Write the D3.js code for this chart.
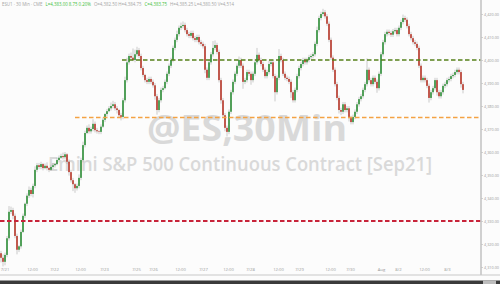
<!DOCTYPE html>
<html lang="en">
<head>
    <meta charset="UTF-8">
    <title>ES 30Min</title>
    <script src="https://d3js.org/d3.v7.min.js"></script>
    <style>
        body { margin: 0; background: #fcfcfc; }
        svg { display: block; font-family: "Open Sans", sans-serif; }
        .wick { stroke: #a9a9a9; stroke-width: .6; }
        .up { fill: #2f9038; }
        .down { fill: #b8372a; }
        .axis text { fill: #9a9a9a; font-size: 4.2px; font-family: "Open Sans", sans-serif; }
        .axis.py text { font-size: 3.8px; }
        .axis line { stroke: #b5b5b5; stroke-width: .6; }
        .mark { fill: #d9d9d9; }
        .head { font-size: 4.4px; fill: #a5a5a5; }
        .head .g { fill: #3fbf3f; }
    </style>
</head>
<body>
<script>
    const width = 500;
    const height = 284;

    // 30 min ES bars (closes), first open given separately
    const firstOpen = 4316.0;
    const closes = [
        4314.0, 4312.25, 4315.25, 4322.5, 4334.0, 4334.75, 4332.25, 4323.5, 4317.5, 4319.0,
        4325.25, 4332.25, 4337.5, 4341.0, 4343.5, 4341.75, 4345.25, 4352.25, 4354.25, 4353.5,
        4354.75, 4353.0, 4354.0, 4353.0, 4352.25, 4353.5, 4354.25, 4354.75, 4356.5, 4357.5,
        4358.25, 4357.75, 4359.0, 4355.75, 4351.25, 4347.75, 4346.0, 4344.25, 4345.25, 4348.75,
        4356.5, 4363.0, 4368.25, 4370.5, 4369.0, 4370.0, 4372.25, 4369.5, 4369.0, 4368.75,
        4371.0, 4374.0, 4376.5, 4377.75, 4379.0, 4380.0, 4380.75, 4379.0, 4378.25, 4376.0,
        4375.25, 4382.5, 4391.25, 4399.0, 4401.75, 4401.0, 4400.0, 4402.5, 4404.25, 4401.75,
        4396.5, 4393.5, 4391.25, 4390.5, 4391.75, 4390.5, 4389.0, 4384.25, 4378.25, 4382.5,
        4387.0, 4387.75, 4390.5, 4394.0, 4397.5, 4400.0, 4405.25, 4408.75, 4411.25, 4414.0,
        4414.75, 4415.25, 4413.0, 4411.25, 4410.5, 4411.75, 4409.5, 4408.75, 4410.0, 4407.75,
        4407.0, 4406.0, 4395.75, 4392.25, 4399.0, 4402.5, 4405.25, 4406.5, 4403.5, 4391.25,
        4382.5, 4376.0, 4370.5, 4368.75, 4377.5, 4386.0, 4390.5, 4394.0, 4397.5, 4400.0,
        4397.5, 4390.5, 4391.25, 4394.75, 4394.0, 4391.25, 4394.0, 4399.0, 4402.25, 4400.0,
        4398.25, 4395.75, 4393.0, 4394.75, 4398.25, 4399.0, 4393.0, 4386.0, 4392.25, 4401.75,
        4400.0, 4394.0, 4392.25, 4391.75, 4390.5, 4386.0, 4382.5, 4387.0, 4393.0, 4396.5,
        4398.25, 4400.0, 4399.0, 4400.0, 4401.25, 4401.75, 4402.5, 4407.0, 4413.0, 4418.25,
        4420.0, 4420.75, 4419.0, 4415.75, 4408.75, 4401.0, 4395.75, 4389.5, 4383.5, 4378.25,
        4377.5, 4380.75, 4378.25, 4379.0, 4374.75, 4373.0, 4375.25, 4377.5, 4380.75, 4383.0,
        4384.25, 4387.0, 4389.5, 4395.75, 4391.25, 4389.5, 4392.25, 4390.5, 4387.75, 4394.0,
        4402.5, 4407.75, 4411.25, 4412.25, 4411.75, 4411.0, 4412.5, 4413.0, 4411.25, 4414.0,
        4416.5, 4418.25, 4417.5, 4414.75, 4411.25, 4409.5, 4407.75, 4407.0, 4405.25, 4397.5,
        4391.25, 4392.25, 4391.25, 4388.75, 4383.5, 4386.0, 4387.75, 4391.25, 4386.0, 4384.25,
        4386.0, 4388.75, 4389.5, 4391.25, 4391.75, 4393.0, 4393.5, 4394.75, 4395.75, 4394.75,
        4389.5, 4387.0
    ];
    // points the high sits above the body / the low sits below the body
    const wickUp = [
        1,1.5,1,1,2.5,1.5,1,1,1,.5,  1,1,.5,1,1.5,1,1,1.5,1,1,  1,.5,1,1.5,.5,1,1,.5,1,1,
        1,1.5,1,.5,1,1,1,.5,1,1.5,  1,1.5,1,1,1.5,1,2,1,1,.5,  1,1,.5,1,1,1.5,1.5,1,1,.5,
        1,1,1.5,2,1,1.5,4,2,1.5,1,  1,1,.5,1,1,1,1,1,1,1,  1,1,1,1,1,1,1,1,1.5,1,
        1.5,1.5,1,1,1,1,1,1,1,1,  1,1,1,1,1,1,3,2,1,1,  1,1,1,1,1,1,1,1,1,1.5,
        1,1,1,1,1,1,1,1.5,3,1,  1,1,1,1,1.5,1,1,1,1,3,  1,1,1,1,1,1,1,1,1,1,
        1,1,1,1,1,1,1,1,1.5,1,  1,1.5,1,1,1,1,1,1,1,1,  1,1,1,1,1,1,1,1,1,1,
        1,1,1,5,1,1,1,1,1,1,  1,1,1,1,1,1,1,1,1,1,  1,1.5,1,1,1,1,1,1,1,1,
        1,1,1,1,1,1,1,1,1,1,  1,1,1,1,1,1,1,1,1,1,  1,1
    ];
    const wickDown = [
        2,2,1.5,1,1,1,1.5,1,2,1,  1,.5,1,1,1,1,1.5,1,1,1,  1,1,.5,1,1,.5,1,1,.5,1,
        .5,1,1,1,1.5,1,3,2,1,1,  1,1,1,.5,1,1,1,1,1,1,  1,.5,1,1,.5,1,1,1,1.5,1,
        1.5,1,1,1,1,1,.5,1,1,1,  1,1,1,1,1,1,1,1.5,2,1,  1,1,.5,1,1,1,1,1,1,1,
        1,1,1,1,1,1,1,1,1,1,  1,1,1.5,1,1,1,1,1,1,1,  1.5,1,1.5,2,1,1,1,1,1,1,
        1,3,1,1,1,2,1,1,1,1,  1,1,1,1,1,1,1,4,1,1,  1,1,1,1,1,2.5,1,1,1,1,
        1,1,1,1,1,1,1,1,1,1,  1,1,1,1,1,1,1,1,1,1.5,  1.5,1,1,1,1.5,1,1,1,1,1,
        1,1,1,1,1,1,1,1,2,1,  1,1,1,1,1,1,1,1,1,1,  1,1,1,1,1,1,1,1,1,1,
        1,1,1,1,2,1,1,1,1.5,1,  1,1,1,1,1,1,1,1,1,1,  1.5,1.5
    ];

    const priceTicks = [4310, 4320, 4330, 4340, 4350, 4360, 4370, 4380, 4390, 4400, 4410, 4420];
    const timeTickBars = [1.75, 15.5, 26.5, 39.5, 51.5, 67.5, 76, 89.5, 101, 113.5, 124.5, 138.5, 149, 164.5, 174.5, 190, 198.5, 211.5, 223];
    const timeTickLabels = ["7/21", "12:00", "7/22", "12:00", "7/23", "7/25", "7/26", "12:00", "7/27", "12:00", "7/28", "12:00", "7/29", "12:00", "7/30", "Aug", "8/2", "12:00", "8/3"];

    // horizontal levels: price and the bar they start at
    const levelPrices = [4400, 4375, 4330];
    const levelStartBars = [60.5, 37, -0.5];
    const levelColors = ["#56801a", "#f4a243", "#c8243a"];

    const headerParts = [
        ["ESU1 · 30 Min · CME", ""],
        ["L=4,383.00 8.75 0.20%", "g"],
        ["O=4,382.50 H=4,384.75", ""],
        ["C=4,383.75", "g"],
        ["H=4,385.25 L=4,380.50 V=4,514", ""]
    ];

    const bars = closes.map((c, i) => {
        const o = i === 0 ? firstOpen : closes[i - 1];
        return {
            i: i, o: o, c: c,
            h: Math.max(o, c) + wickUp[i],
            l: Math.min(o, c) - wickDown[i]
        };
    });

    const svg = d3.select("body").append("svg")
        .attr("width", width).attr("height", height);

    const x = d3.scaleLinear().domain([0, closes.length - 1]).range([1, 463]);
    const y = d3.scaleLinear().domain([4310, 4420]).range([267, 14]);
    const axisX = 481;

    draw();

    function draw() {
        svg.append("rect").attr("width", width).attr("height", height).attr("fill", "#fcfcfc");

        // watermark
        svg.append("text").attr("class", "mark")
            .attr("x", 147).attr("y", 141)
            .attr("textLength", 200).attr("lengthAdjust", "spacingAndGlyphs")
            .style("font-size", "36px").style("font-weight", 700)
            .text("@ES,30Min");
        svg.append("text").attr("class", "mark")
            .attr("x", 48).attr("y", 171)
            .attr("textLength", 384).attr("lengthAdjust", "spacingAndGlyphs")
            .style("font-size", "20px").style("font-weight", 600)
            .text("Emini S&P 500 Continuous Contract [Sep21]");

        // header line
        const head = svg.append("text").attr("class", "head").attr("x", 2).attr("y", 6);
        headerParts.forEach(function(p, k) {
            head.append("tspan").attr("class", p[1]).attr("dx", k ? 3 : 0).text(p[0]);
        });

        // candles
        svg.selectAll("line.wick")
            .data(bars)
            .enter()
            .append("line")
            .attr("class", "wick")
            .attr("x1", d => x(d.i)).attr("x2", d => x(d.i))
            .attr("y1", d => y(d.h)).attr("y2", d => y(d.l));

        svg.selectAll("rect.body")
            .data(bars)
            .enter()
            .append("rect")
            .attr("class", d => "body " + (d.c >= d.o ? "up" : "down"))
            .attr("x", d => x(d.i) - 0.8)
            .attr("width", 1.6)
            .attr("y", d => y(Math.max(d.o, d.c)))
            .attr("height", d => Math.max(0.6, Math.abs(y(d.o) - y(d.c))));

        // dashed levels
        svg.selectAll("line.level")
            .data(levelPrices)
            .enter()
            .append("line")
            .attr("class", "level")
            .attr("x1", (d, k) => x(levelStartBars[k]))
            .attr("x2", axisX)
            .attr("y1", d => y(d)).attr("y2", d => y(d))
            .attr("stroke", (d, k) => levelColors[k])
            .attr("stroke-width", (d, k) => k === 2 ? 2 : 1.7)
            .attr("stroke-dasharray", "4.5,2.5");

        // axes
        const yAxis = d3.axisRight(y)
            .tickValues(priceTicks)
            .tickFormat(d3.format(",.2f"))
            .tickSize(2).tickPadding(1);
        const gy = svg.append("g").attr("class", "axis py")
            .attr("transform", `translate(${axisX},0)`)
            .call(yAxis);
        gy.select(".domain").remove();

        const xAxis = d3.axisBottom(x)
            .tickValues(timeTickBars)
            .tickFormat((d, k) => timeTickLabels[k])
            .tickSize(0).tickPadding(3);
        const gx = svg.append("g").attr("class", "axis")
            .attr("transform", "translate(0,265)")
            .call(xAxis);
        gx.select(".domain").remove();

        svg.append("line")
            .attr("x1", axisX).attr("x2", axisX).attr("y1", 0).attr("y2", 275)
            .attr("stroke", "#c2c2c2").attr("stroke-width", 1.5);
        svg.append("line")
            .attr("x1", 0).attr("x2", width).attr("y1", 275).attr("y2", 275)
            .attr("stroke", "#c8c8c8").attr("stroke-width", 1);

        // scrollbar strip
        svg.append("rect").attr("x", 0).attr("y", 280.5).attr("width", width).attr("height", 3.5).attr("fill", "#3b3b3b");
        svg.append("rect").attr("x", 483).attr("y", 280.5).attr("width", 13).attr("height", 3.5).attr("fill", "#bdbdbd");
    }
</script>

</body>
</html>
